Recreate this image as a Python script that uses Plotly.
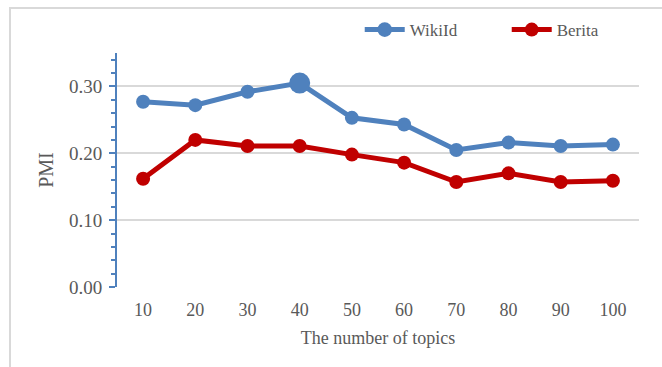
import plotly.graph_objects as go

topics = ["10", "20", "30", "40", "50", "60", "70", "80", "90", "100"]
wikiid = [0.277, 0.272, 0.292, 0.305, 0.253, 0.243, 0.205, 0.216, 0.211, 0.213]
berita = [0.162, 0.220, 0.211, 0.211, 0.198, 0.186, 0.157, 0.170, 0.157, 0.159]
y_ticks = [0.0, 0.1, 0.2, 0.3]
y_tick_labels = ["0.00", "0.10", "0.20", "0.30"]

BLUE = "#4f81bd"
RED = "#c00000"
FONT = "Liberation Serif"
GREY_TXT = "#595959"

wiki_sizes = [14] * len(topics)
wiki_sizes[3] = 21

fig = go.Figure()
fig.add_trace(go.Scatter(
    x=topics, y=wikiid, name="WikiId", mode="lines+markers",
    line=dict(color=BLUE, width=5),
    marker=dict(color=BLUE, size=wiki_sizes, opacity=1, line=dict(width=0)),
))
fig.add_trace(go.Scatter(
    x=topics, y=berita, name="Berita", mode="lines+markers",
    line=dict(color=RED, width=5),
    marker=dict(color=RED, size=14, opacity=1, line=dict(width=0)),
))

fig.update_layout(
    width=662, height=367,
    margin=dict(l=117, r=23, t=53, b=80, autoexpand=False),
    paper_bgcolor="white", plot_bgcolor="white",
    font=dict(family=FONT, color=GREY_TXT, size=18),
    showlegend=True,
    legend=dict(
        orientation="h", x=0.465, y=1.175, xanchor="left", yanchor="top",
        font=dict(family=FONT, size=17, color=GREY_TXT),
        entrywidth=92, itemwidth=40, bgcolor="rgba(0,0,0,0)",
        traceorder="normal",
    ),
    xaxis=dict(
        type="category", range=[-0.5, 9.5],
        showgrid=False, showline=False, ticks="", zeroline=False,
        ticklabelstandoff=10,
        tickfont=dict(family=FONT, size=18, color=GREY_TXT),
        title=dict(text="The number of topics", font=dict(family=FONT, size=18, color=GREY_TXT), standoff=12),
    ),
    yaxis=dict(
        range=[0, 0.35], tickvals=y_ticks, ticktext=y_tick_labels,
        showgrid=True, gridcolor="#d9d9d9", gridwidth=1.5,
        zeroline=False,
        showline=True, linecolor=BLUE, linewidth=2,
        ticks="outside", tickcolor=BLUE, ticklen=6, tickwidth=2,
        ticklabelstandoff=3,
        minor=dict(dtick=0.02, ticks="outside", ticklen=4, tickcolor=BLUE, tickwidth=1.5, showgrid=False),
        tickfont=dict(family=FONT, size=19, color=GREY_TXT),
        title=dict(text="PMI", font=dict(family=FONT, size=20, color=GREY_TXT), standoff=10),
    ),
    shapes=[
        dict(type="rect", xref="paper", yref="paper",
             x0=(10 - 117) / 522, x1=(680 - 117) / 522,
             y0=(287 - 390) / 234, y1=(287 - 8) / 234,
             line=dict(color="#d9d9d9", width=2), fillcolor="rgba(0,0,0,0)", layer="below"),
    ],
)

fig.write_html("out.html")
